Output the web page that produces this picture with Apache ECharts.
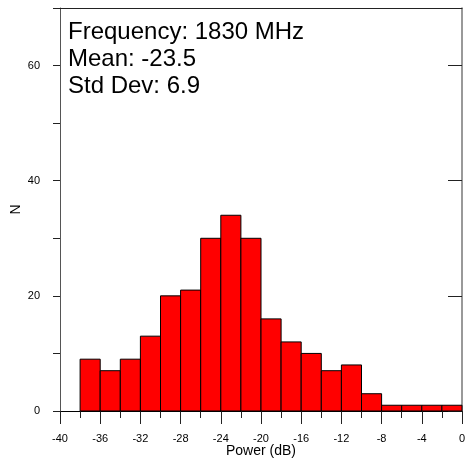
<!DOCTYPE html>
<html><head><meta charset="utf-8">
<script src="https://cdn.jsdelivr.net/npm/echarts@6/dist/echarts.min.js"></script>
<style>html,body{margin:0;padding:0;background:#fff}#c{width:468px;height:461px}</style>
</head><body><div id="c"></div>
<script>
const binLow  = [-38,-36,-34,-32,-30,-28,-26,-24,-22,-20,-18,-16,-14,-12,-10,-8,-6,-4,-2];
const binHigh = [-36,-34,-32,-30,-28,-26,-24,-22,-20,-18,-16,-14,-12,-10,-8,-6,-4,-2,0];
const counts  = [9,7,9,13,20,21,30,34,30,16,12,10,7,8,3,1,1,1,1];
const yLabelValues = [0,20,40,60];
const infoLines = ['Frequency: 1830 MHz','Mean: -23.5','Std Dev: 6.9'];

const FONT = 'Liberation Sans, Arial, sans-serif';
const data = binLow.map((v,i)=>[v, binHigh[i], counts[i]]);
const chart = echarts.init(document.getElementById('c'), null, {renderer:'canvas'});
chart.setOption({
  animation:false,
  backgroundColor:'#fff',
  grid:{left:60,right:6,top:8,bottom:50,outerBoundsMode:'none',containLabel:false},
  xAxis:[{
    type:'value', min:-40, max:0, interval:4,
    axisLine:{show:true,onZero:false,lineStyle:{color:'#000',width:1}},
    axisTick:{show:true,length:13,lineStyle:{color:'#222'}},
    minorTick:{show:true,splitNumber:2,length:7,lineStyle:{color:'#222'}},
    splitLine:{show:false}, minorSplitLine:{show:false},
    axisLabel:{fontFamily:FONT,fontSize:11,color:'#000',margin:22},
    name:'Power (dB)', nameLocation:'middle', nameGap:33, nameMoveOverlap:false,
    nameTextStyle:{fontFamily:FONT,fontSize:14,color:'#000'}
  },{
    type:'value', min:-40, max:0, position:'top',
    axisLine:{show:true,onZero:false,lineStyle:{color:'#222'}},
    axisTick:{show:false}, axisLabel:{show:false}, splitLine:{show:false}
  }],
  yAxis:[{
    type:'value', min:0, max:70, interval:10,
    axisLine:{show:true,onZero:false,lineStyle:{color:'#555'}},
    axisTick:{show:true,length:7,lineStyle:{color:'#222'}},
    axisLabel:{show:false}, splitLine:{show:false},
    name:'N', nameLocation:'middle', nameGap:37, nameRotate:90, nameMoveOverlap:false,
    nameTextStyle:{fontFamily:FONT,fontSize:14,color:'#000'}
  },{
    type:'value', min:0, max:70, position:'left',
    axisLine:{show:false},
    axisTick:{show:true,length:14,customValues:yLabelValues,lineStyle:{color:'#222'}},
    axisLabel:{fontFamily:FONT,fontSize:11,color:'#000',margin:20,customValues:yLabelValues},
    splitLine:{show:false}
  },{
    type:'value', min:0, max:70, position:'right',
    axisLine:{show:true,onZero:false,lineStyle:{color:'#777',width:1.5}},
    axisTick:{show:false}, axisLabel:{show:false}, splitLine:{show:false}
  }],
  series:[{
    type:'custom', xAxisIndex:0, yAxisIndex:0, data:data,
    encode:{x:[0,1], y:2},
    renderItem:function(params, api){
      const p0 = api.coord([api.value(0), 0]);
      const p1 = api.coord([api.value(1), api.value(2)]);
      return {type:'rect',
        shape:{x:p0[0], y:p1[1], width:p1[0]-p0[0], height:p0[1]-p1[1]},
        style:{fill:'#ff0000', stroke:'#000', lineWidth:1}};
    }
  }],
  graphic: infoLines.map((t,i)=>({
    type:'text', left:68, top:20 + i*27, z:100,
    style:{text:t, font:'24px ' + FONT, fill:'#000'}
  }))
});
</script></body></html>
